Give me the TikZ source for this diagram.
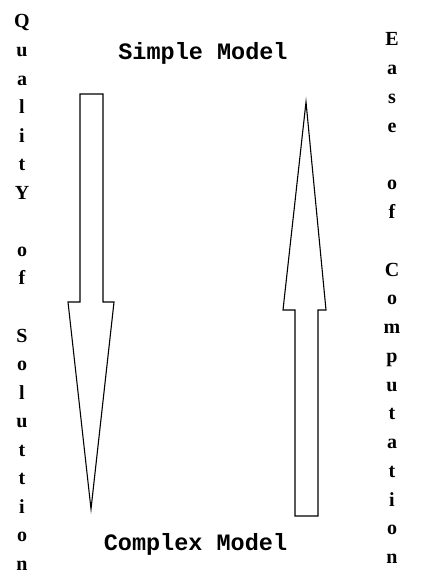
\documentclass[tikz,border=0pt]{standalone}
\usepackage{fontspec}
\newfontfamily\monob{Liberation Mono}[BoldFont={* Bold}]
\newfontfamily\serifb{Liberation Serif}
\begin{document}
\begin{tikzpicture}[x=1pt,y=-1pt,
  arrowshape/.style={draw=black,line width=1.1pt,fill=white,line join=miter},
  modellabel/.style={font=\monob\bfseries\fontsize{23.5}{26}\selectfont,inner sep=0pt,anchor=base},
  vletter/.style={font=\serifb\bfseries\fontsize{20}{24}\selectfont,inner sep=0pt,anchor=base}]
\useasboundingbox[fill=white] (0,0) rectangle (427,577);
% labels
\node[modellabel] (simple) at (203,60) {Simple Model};
\node[modellabel] (complex) at (195.5,550) {Complex Model};
% down arrow
\draw[arrowshape] (80,94) -- (103,94) -- (103,302) -- (114,302) -- (91,509) -- (68,302) -- (80,302) -- cycle;
% up arrow
\draw[arrowshape] (306,102) -- (326,310) -- (318,310) -- (318,516) -- (295,516) -- (295,310) -- (283,310) -- cycle;
% vertical texts
\foreach \ch [count=\i] in {Q,u,a,l,i,t,Y,{},o,f,{},S,o,l,u,t,t,i,o,n}
  \node[vletter] (qos\i) at (22,{28+(\i-1)*28.55}) {\ch};
\foreach \ch [count=\i] in {E,a,s,e,{},o,f,{},C,o,m,p,u,t,a,t,i,o,n}
  \node[vletter] (eoc\i) at (392,{46+(\i-1)*28.75}) {\ch};
\end{tikzpicture}
\end{document}
